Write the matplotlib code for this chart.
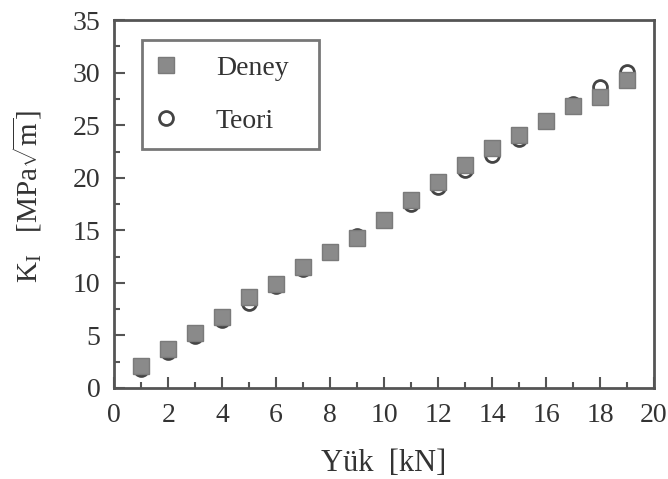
import matplotlib
matplotlib.use("Agg")
import matplotlib.pyplot as plt
from matplotlib.ticker import MultipleLocator

yuk = [1, 2, 3, 4, 5, 6, 7, 8, 9, 10, 11, 12, 13, 14, 15, 16, 17, 18, 19]
deney = [2.1, 3.7, 5.2, 6.8, 8.7, 9.9, 11.5, 12.9, 14.3, 16.0, 17.9, 19.6,
         21.2, 22.8, 24.1, 25.4, 26.8, 27.7, 29.3]
teori = [1.8, 3.4, 4.9, 6.5, 8.1, 9.7, 11.3, 12.9, 14.5, 16.0, 17.5, 19.1,
         20.7, 22.2, 23.7, 25.4, 27.0, 28.6, 30.1]

plt.rcParams['font.family'] = ['Liberation Serif', 'DejaVu Serif']
plt.rcParams['mathtext.fontset'] = 'custom'
plt.rcParams['mathtext.rm'] = 'Liberation Serif'
plt.rcParams['mathtext.it'] = 'Liberation Serif:italic'

edge = '#555555'
txt = '#333333'
fig = plt.figure(figsize=(6.68, 4.79), dpi=100)
ax = fig.add_axes([0.171, 0.19, 0.808, 0.768])

ax.plot(yuk, teori, 'o', ms=10, mfc='white', mec='#444444', mew=2,
        label='Teori', zorder=2)
ax.plot(yuk, deney, 's', ms=11, mfc='#8a8a8a', mec='#7a7a7a', mew=1,
        label='Deney', zorder=3)

ax.set_xlim(0, 20)
ax.set_ylim(0, 35)
ax.xaxis.set_major_locator(MultipleLocator(2))
ax.xaxis.set_minor_locator(MultipleLocator(1))
ax.yaxis.set_major_locator(MultipleLocator(5))
ax.yaxis.set_minor_locator(MultipleLocator(2.5))
ax.tick_params(which='both', direction='in', top=False, right=False,
               color=edge, labelsize=20, labelcolor=txt)
ax.tick_params(which='major', length=8, width=1.5, pad=10)
ax.tick_params(axis='x', which='major', pad=11)
ax.tick_params(which='minor', length=4, width=1.5)
for s in ax.spines.values():
    s.set_color(edge)
    s.set_linewidth(2)

ax.set_xlabel('Yük  [kN]', fontsize=22, color=txt, labelpad=15)
ax.set_ylabel(r'K$_\mathrm{I}$   [MPa$\sqrt{\mathrm{m}}$]', fontsize=21,
              color=txt)
ax.yaxis.set_label_coords(-0.13, 0.52)

handles, labels = ax.get_legend_handles_labels()
leg = ax.legend(handles[::-1], labels[::-1], loc='upper left',
                bbox_to_anchor=(0.052, 0.946, 0.327, 0), mode='expand',
                fontsize=20, frameon=True, fancybox=False, borderpad=0.55,
                labelspacing=1.0, handletextpad=1.5, handlelength=0.6,
                borderaxespad=0)
leg.get_frame().set_edgecolor(edge)
leg.get_frame().set_linewidth(2)
for t in leg.get_texts():
    t.set_color(txt)

fig.savefig('out.png', dpi=100)
